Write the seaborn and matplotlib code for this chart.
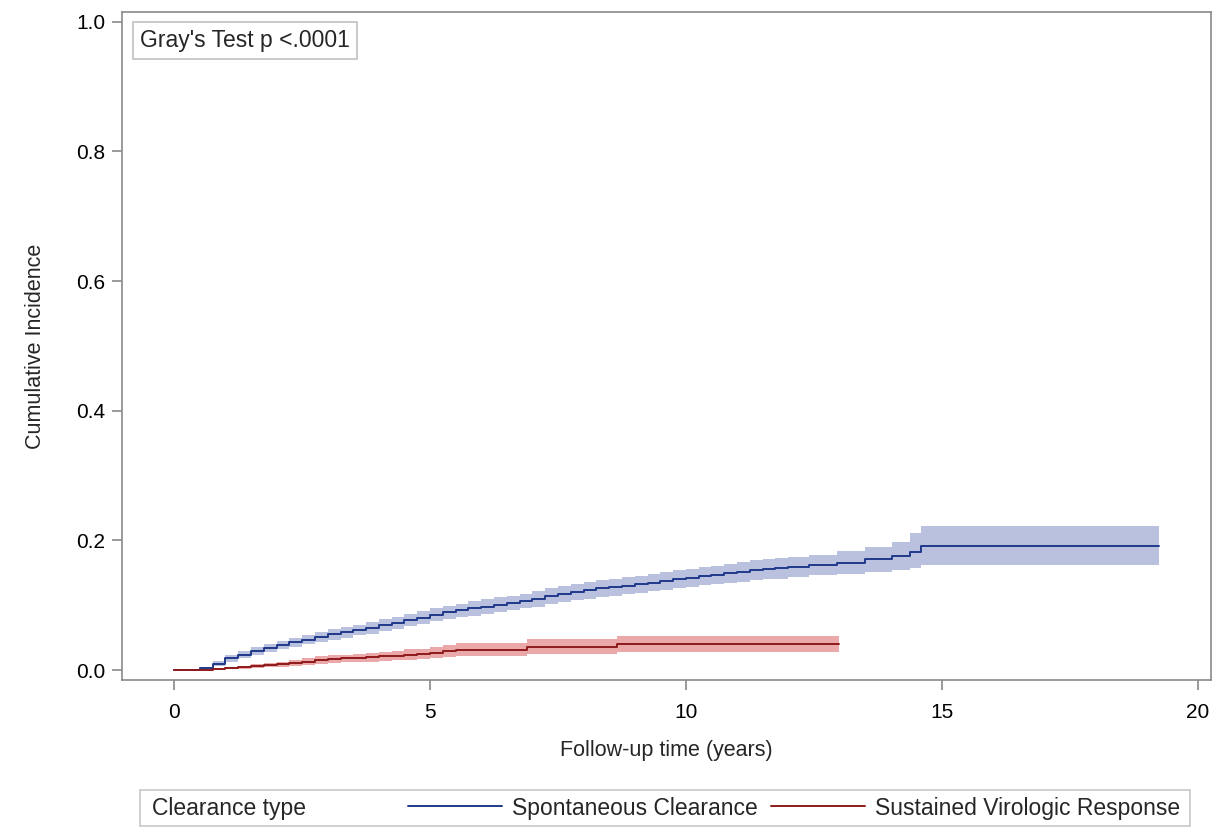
import matplotlib
matplotlib.use("Agg")
import matplotlib.pyplot as plt
from matplotlib.lines import Line2D
from matplotlib.patches import Rectangle
import seaborn as sns
import pandas as pd

# cumulative incidence curves
sc_time = [0, 0.4, 0.5, 0.75, 1.0, 1.25, 1.5, 1.75, 2.0, 2.25, 2.5, 2.75, 3.0, 3.25, 3.5, 3.75,
           4.0, 4.25, 4.5, 4.75, 5.0, 5.25, 5.5, 5.75, 6.0, 6.25, 6.5, 6.75, 7.0, 7.25, 7.5,
           7.75, 8.0, 8.25, 8.5, 8.75, 9.0, 9.25, 9.5, 9.75, 10.0, 10.25, 10.5, 10.75, 11.0,
           11.25, 11.5, 11.75, 12.0, 12.4, 12.95, 13.5, 14.02, 14.38, 14.6, 19.25]
sc_est = [0, 0,
          .003, .010, .018, .024, .029, .034, .039, .043, .047, .051,
          .055, .058, .062, .065, .069, .073, .077, .081, .085, .089,
          .092, .095, .098, .101, .104, .107, .110, .114, .117, .120,
          .123, .126, .128, .130, .132, .135, .137, .140, .142, .145,
          .147, .149, .151, .154, .156, .157, .159,
          .162, .165, .171, .176, .182, .191, .191]
sc_lo = [0, 0,
         .001, .006, .013, .019, .023, .028, .033, .036, .040, .044,
         .047, .050, .054, .056, .060, .064, .068, .071, .075, .079,
         .082, .084, .087, .090, .093, .096, .098, .102, .105, .108,
         .110, .113, .115, .117, .119, .122, .123, .126, .128, .131,
         .133, .134, .136, .139, .140, .141, .143,
         .147, .148, .151, .155, .157, .162, .162]
sc_hi = [0, 0,
         .005, .014, .023, .029, .035, .040, .045, .050, .054, .058,
         .063, .066, .070, .074, .078, .082, .086, .091, .095, .099,
         .102, .106, .109, .112, .115, .118, .122, .126, .129, .132,
         .136, .139, .141, .143, .145, .148, .151, .154, .156, .159,
         .161, .164, .166, .169, .172, .173, .175,
         .177, .183, .190, .198, .211, .222, .222]

svr_time = [0, 0.5, 0.75, 1.0, 1.25, 1.5, 1.75, 2.0, 2.25, 2.5, 2.75, 3.0, 3.25, 3.5, 3.75,
            4.0, 4.25, 4.5, 4.75, 5.0, 5.25, 5.5, 6.9, 8.65, 13.0]
svr_est = [0, 0, .002, .003, .004, .006, .008, .009, .011, .013, .015, .017, .018, .019, .020,
           .021, .022, .024, .025, .027, .029, .031, .036, .040, .040]
svr_lo = [0, 0, .001, .001, .002, .003, .004, .005, .006, .008, .009, .011, .012, .013, .013,
          .014, .015, .016, .017, .019, .020, .022, .025, .028, .028]
svr_hi = [0, 0, .003, .005, .006, .009, .011, .013, .015, .018, .021, .023, .024, .025, .027,
          .028, .030, .032, .033, .036, .038, .041, .048, .053, .053]

groups = ["Spontaneous Clearance", "Sustained Virologic Response"]
line_colors = ["#1F3A8A", "#8E1B1B"]
band_colors = ["#B9C1DE", "#EBA8A8"]

sns.set_style("white")
plt.rcParams['font.family'] = ['Liberation Sans', 'DejaVu Sans']

fig = plt.figure(figsize=(12.24, 8.27), dpi=100)
ax = fig.add_axes([0.0997, 0.178, 0.890, 0.8075])

curves = [(sc_time, sc_est, sc_lo, sc_hi), (svr_time, svr_est, svr_lo, svr_hi)]
for i, (t, est, lo, hi) in enumerate(curves):
    ax.fill_between(t, lo, hi, step="post", color=band_colors[i], linewidth=0, zorder=1)
    df = pd.DataFrame({"time": t, "ci": est})
    sns.lineplot(data=df, x="time", y="ci", ax=ax, estimator=None, sort=False,
                 drawstyle="steps-post", color=line_colors[i], linewidth=1.4, zorder=2)

ax.set_xlim(-1.02, 20.27)
ax.set_ylim(-0.015, 1.015)
ax.set_xticks([0, 5, 10, 15, 20])
ax.set_yticks([0.0, 0.2, 0.4, 0.6, 0.8, 1.0])
ax.set_yticklabels(["0.0", "0.2", "0.4", "0.6", "0.8", "1.0"])
ax.set_xlabel("Follow-up time (years)", fontsize=15.5, labelpad=13)
ax.set_ylabel("Cumulative Incidence", fontsize=15.5, labelpad=22)

for sp in ax.spines.values():
    sp.set_color("#8A8A8A")
    sp.set_linewidth(1.2)
ax.tick_params(axis="both", which="both", direction="out", length=7, width=1.2,
               color="#8A8A8A", labelsize=15, labelcolor="black", pad=5,
               bottom=True, left=True)
ax.tick_params(axis="x", pad=10)

ax.text(0.0165, 0.975, "Gray's Test p <.0001", transform=ax.transAxes, fontsize=16.5,
        va="top", ha="left",
        bbox=dict(boxstyle="square,pad=0.3", facecolor="white", edgecolor="#C0C0C0", linewidth=1.2))

# legend row at the bottom: frame, group title, then the two lines
fig.patches.append(Rectangle((140 / 1224, 1 / 827), 1050 / 1224, 36 / 827, transform=fig.transFigure,
                             facecolor="white", edgecolor="#C8C8C8", linewidth=1.2))
fig.text(152 / 1224, 19 / 827, "Clearance type", fontsize=16.5, va="center", ha="left")
handles = [Line2D([], [], color=c, linewidth=1.4) for c in line_colors]
leg = fig.legend(handles, groups, loc="center right", bbox_to_anchor=(1180 / 1224, 19 / 827),
                 ncol=2, frameon=False, fontsize=16.5, handlelength=4.1,
                 handletextpad=0.45, columnspacing=0.55, borderpad=0, borderaxespad=0)

fig.savefig("out.png", dpi=100)
